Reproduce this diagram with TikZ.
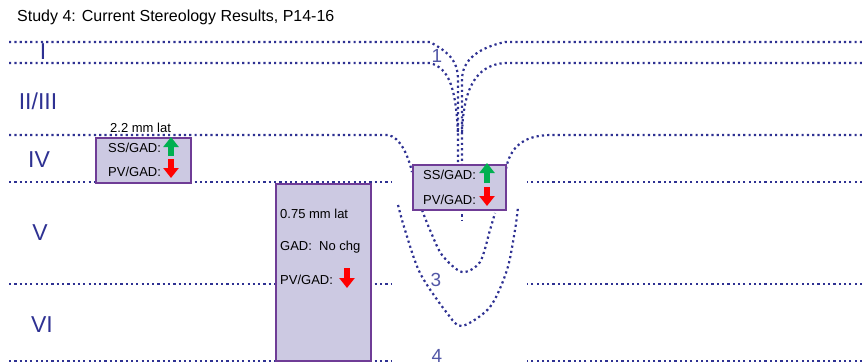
\documentclass[tikz,border=0pt]{standalone}
\usepackage{fontspec}
\setmainfont{Liberation Sans}
\usepackage{tikz}
\usetikzlibrary{arrows.meta,positioning,calc}

\definecolor{layerblue}{HTML}{2E3192}
\definecolor{numblue}{HTML}{5257A6}
\definecolor{boxfill}{HTML}{CCC9E2}
\definecolor{boxedge}{HTML}{6F3C96}
\definecolor{upgreen}{HTML}{00B050}
\definecolor{downred}{HTML}{FF0000}

\begin{document}
\begin{tikzpicture}[x=1pt,y=-1pt,
  layer/.style={draw=layerblue,line width=2.2pt,dash pattern=on 2.2pt off 3.1pt},
  region/.style={draw=boxedge,fill=boxfill,line width=2.4pt,anchor=north west,inner sep=0pt},
  lbl/.style={text=layerblue,font=\fontsize{23}{23}\selectfont,inner sep=0pt},
  num/.style={text=numblue,font=\fontsize{19}{19}\selectfont,inner sep=0pt},
  txt/.style={font=\fontsize{13}{13}\selectfont,inner sep=0pt,anchor=west},
  uparr/.style={upgreen,line width=6pt,-{Triangle[width=15pt,length=10pt]}},
  downarr/.style={downred,line width=6pt,-{Triangle[width=15pt,length=10pt]}}]
  \useasboundingbox (0,0) rectangle (862,364); % 図全体の大きさ

  \node[anchor=west,inner sep=0pt,font=\fontsize{16}{16}\selectfont] (title) at (17,17) {Study 4: Current Stereology Results, P14-16}; % 表題

  % 左側の層境界（点線）
  \draw[layer] (9,42) -- (430,42) .. controls (448,52) and (458,60) .. (458,80) -- (458,164);
  \draw[layer] (9,63) -- (430,63) .. controls (448,68) and (456,85) .. (458,135);
  \draw[layer] (9,135) -- (388,135) .. controls (400,137) and (408,155) .. (412,172);
  \draw[layer] (9,182) -- (392,182);
  \draw[layer] (9,284) -- (392,284);
  \draw[layer] (9,361) -- (392,361);

  % 右側の層境界（点線）
  \draw[layer] (862,42) -- (505,42) .. controls (478,48) and (462,60) .. (462,80) -- (462,164);
  \draw[layer] (862,63) -- (505,63) .. controls (475,65) and (463,90) .. (462,135);
  \draw[layer] (862,135) -- (552,135) .. controls (520,135) and (508,150) .. (505,175);
  \draw[layer] (862,182) -- (527,182);
  \draw[layer] (862,284) -- (527,284);
  \draw[layer] (862,361) -- (527,361);

  \draw[layer] (462,209) -- (462,221); % 箱の下に続く中央線
  % 中央の二重のU字
  \draw[layer] plot[smooth] coordinates {(422,210) (430,230) (442,255) (462,272) (480,262) (490,230) (495,213)};
  \draw[layer] plot[smooth] coordinates {(398,205) (405,230) (420,273) (447,313) (462,326) (490,307) (507,270) (515,230) (518,207)};

  % 層の名前
  \node[lbl] (layerI) at (43,52) {I};
  \node[lbl] (layerII) at (38,101) {II/III};
  \node[lbl] (layerIV) at (39,160) {IV};
  \node[lbl] (layerV) at (40,233) {V};
  \node[lbl] (layerVI) at (42,325) {VI};

  % 中央の番号
  \node[num] (num1) at (437,56) {1};
  \node[num] (num3) at (436,280) {3};
  \node[num] (num4) at (437,356) {4};

  % 2.2 mm lat の箱
  \node[region,minimum width=95pt,minimum height=45pt] (boxA) at (95,137) {};
  \node[txt] (latA) at (110,128) {2.2 mm lat};
  \node[txt] (ssA) at (108,148) {SS/GAD:};
  \node[txt] (pvA) at (108,172) {PV/GAD:};
  \draw[uparr] (171,156) -- (171,137);
  \draw[downarr] (171,159) -- (171,178);

  % 0.75 mm lat の箱
  \node[region,minimum width=95pt,minimum height=177pt] (boxB) at (275,183) {};
  \node[txt] (latB) at (280,214) {0.75 mm lat};
  \node[txt] (gadB) at (280,247) {GAD:\ \ No chg};
  \node[txt] (pvB) at (280,280) {PV/GAD:};
  \draw[downarr] (347,268) -- (347,288);

  % 中央の箱
  \node[region,minimum width=93pt,minimum height=45pt] (boxC) at (412,164) {};
  \node[txt] (ssC) at (423,175) {SS/GAD:};
  \node[txt] (pvC) at (423,200) {PV/GAD:};
  \draw[uparr] (487,183) -- (487,163);
  \draw[downarr] (487,187) -- (487,206);
\end{tikzpicture}
\end{document}
